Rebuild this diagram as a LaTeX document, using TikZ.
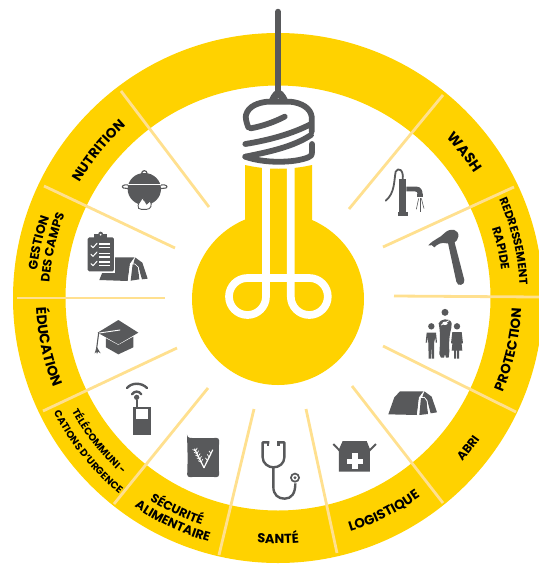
\documentclass[tikz,border=0pt]{standalone}
\usepackage{fontspec}
\setmainfont{Poppins}
\usetikzlibrary{decorations.text,calc}
\definecolor{ringy}{HTML}{FFD200}
\definecolor{rayy}{HTML}{FFE08F}
\definecolor{icong}{HTML}{58595B}
\newcommand{\arcCW}[4]{\path[decorate,decoration={text along path,text align=center,text={|\fontsize{#3}{#3}\selectfont\bfseries|#4}}] (c) ++(#2+45:#1 pt) arc[start angle=#2+45,end angle=#2-45,radius=#1 pt];}
\newcommand{\arcCCW}[4]{\path[decorate,decoration={text along path,text align=center,text={|\fontsize{#3}{#3}\selectfont\bfseries|#4}}] (c) ++(#2-45:#1 pt) arc[start angle=#2-45,end angle=#2+45,radius=#1 pt];}
\tikzset{
  x=1pt,y=-1pt,
  rayline/.style={draw=rayy,line width=2.8pt},
  ico/.style={fill=icong,draw=none},
  icoline/.style={draw=icong,line cap=round,line join=round},
  whiteline/.style={draw=white,line cap=round,line join=round},
  sock/.style={draw=icong,line width=5.8pt,line cap=round,line join=round},
  zA/.style={shift={(180,0)},scale=1/3},
  zC/.style={shift={(0,80)},scale=1/3},
  zD/.style={shift={(0,300)},scale=1/3},
  zE/.style={shift={(220,380)},scale=1/3},
  zF/.style={shift={(340,90)},scale=1/3},
  zG/.style={shift={(370,280)},scale=1/3},
}
\begin{document}
\begin{tikzpicture}
\useasboundingbox (0,0) rectangle (539,566);
\clip (0,0) rectangle (539,566);
\coordinate (c) at (278,298);
% ring
\fill[ringy,even odd rule] (c) circle[radius=265pt] (c) circle[radius=212.5pt];
% rays
\draw[rayline] (121,91) -- (209,207);
\draw[rayline] (44,186) -- (175,248);
\draw[rayline] (17,298) -- (165,298);
\draw[rayline] (43,411) -- (177,348);
\draw[rayline] (114,504) -- (208,388);
\draw[rayline] (219,555) -- (254,409);
\draw[rayline] (337,553) -- (306,409);
\draw[rayline] (443,503) -- (352,386);
\draw[rayline] (516,412) -- (383,346);
\draw[rayline] (539,297) -- (394,296);
\draw[rayline] (514,187) -- (383,247);
\draw[rayline] (443,95) -- (349,209);
% bulb
\fill[ringy] (278,299) circle[radius=86pt];
\fill[ringy] (245,165) .. controls (267,170) and (290,170) .. (312,165) -- (312,240) -- (245,240) -- cycle;
\draw[white,line width=7.7pt,line join=round] (266,160) -- (266,296.5) arc[start angle=0,end angle=-270,radius=18.5pt] -- (309.3,278) arc[start angle=90,end angle=-180,radius=18.5pt] -- (290.8,160);
% socket
\begin{scope}[zA]
\draw[sock] (294,35) -- (294,280);
\draw[sock] (205,382) .. controls (198,365) and (196,350) .. (198,345) .. controls (205,318) and (235,308) .. (262,305) -- (330,305) .. controls (365,308) and (392,325) .. (395,350) -- (395,395);
\fill[ico] (262,305) .. controls (272,298) and (272,272) .. (295,270) .. controls (318,272) and (318,298) .. (330,305) -- (318,310) -- (305,305) .. controls (300,292) and (290,292) .. (285,305) -- (272,310) -- cycle;
\draw[sock] (212,385) .. controls (250,378) and (285,365) .. (314,350);
\draw[sock] (196,432) .. controls (270,420) and (340,400) .. (393,372);
\draw[sock] (196,470) .. controls (270,455) and (340,440) .. (393,405);
\draw[sock] (196,470) .. controls (250,490) and (340,490) .. (385,472) .. controls (393,470) and (396,465) .. (396,455) -- (396,432);
\end{scope}
% labels
\arcCW{229.5}{140.7}{13.6}{NUTRITION}
\arcCW{242.5}{167}{12.6}{GESTION}
\arcCW{229}{167.4}{12.2}{DES CAMPS}
\arcCCW{242}{192}{14}{ÉDUCATION}
\arcCCW{235.5}{218.7}{10}{TÉLÉCOMMUNI -}
\arcCCW{252}{219}{10}{CATIONS D'URGENCE}
\arcCCW{239.5}{244.5}{12.3}{SÉCURITÉ}
\arcCCW{253.5}{244.8}{12.6}{ALIMENTAIRE}
\arcCCW{245.5}{270}{13}{SANTÉ}
\arcCCW{244.5}{296.4}{13.4}{LOGISTIQUE}
\arcCCW{246.5}{321.7}{12}{ABRI}
\arcCCW{243.5}{347.4}{13.5}{PROTECTION}
\arcCW{242}{13.6}{11.5}{REDRESSEMENT}
\arcCW{225}{12.6}{12}{RAPIDE}
\arcCW{232.5}{38}{14.5}{WASH}
% pot
\begin{scope}[zC]
\draw[icoline,line width=1.2pt] (433,280) circle[radius=8pt];
\draw[icoline,line width=1.1pt] (385,315) .. controls (370,312) and (362,320) .. (370,324) -- (388,326);
\draw[icoline,line width=1.1pt] (482,315) .. controls (498,312) and (506,320) .. (498,324) -- (480,326);
\fill[ico] (433,327) ellipse[x radius=50pt,y radius=48pt];
\fill[ico] (412,365) -- (455,365) -- (450,385) -- (418,385) -- cycle;
\draw[whiteline,line width=1.1pt] (385,314) -- (482,314);
\fill[white] (433,388) ellipse[x radius=22pt,y radius=8pt];
\draw[icong,fill=white,line width=.9pt] (416,385) .. controls (410,372) and (420,368) .. (428,352) .. controls (430,365) and (440,362) .. (440,372) .. controls (445,368) and (448,365) .. (450,362) .. controls (458,375) and (452,388) .. (440,388) -- (424,388) .. controls (420,388) and (418,388) .. (416,385) -- cycle;
% tent 1
\fill[ico] (298,600) -- (318,550) -- (342,532) -- (405,532) -- (390,552) -- (383,603) -- cycle;
\fill[ico] (405,532) -- (427,548) -- (443,596) -- (426,598) -- (415,560) -- (405,552) -- (400,552) -- cycle;
\fill[ico] (405,552) -- (414,562) -- (418,598) -- (392,602) -- (398,552) -- cycle;
\draw[whiteline,line width=.7pt] (405,532) -- (391,552) -- (385,603);
\draw[whiteline,line width=.7pt] (391,552) -- (405,552) -- (415,562) -- (421,598);
% clipboard
\fill[white] (258,464) rectangle (346,580);
\fill[ico,rounded corners=1.5pt] (263,472) rectangle (342,574);
\fill[ico] (283,462) rectangle (322,478);
\fill[ico] (302,462) circle[radius=7pt];
\fill[white] (302,464) circle[radius=3pt];
\foreach \yy in {497,523,551}{
  \draw[whiteline,line width=1pt] (273,\yy) -- (279,\yy+6) -- (291,\yy-7);
}
\foreach \yy in {492,503,520,531,546,557}{
  \fill[white] (298,\yy-2) rectangle (331,\yy+2);
}
\end{scope}
% education, phone, sack
\begin{scope}[zD]
\fill[ico] (318,115) -- (355,135) -- (400,110) -- (400,142) -- (355,163) -- (318,142) -- cycle;
\fill[ico] (293,98) -- (355,60) -- (415,98) -- (355,133) -- cycle;
\draw[whiteline,line width=.9pt] (360,90) -- (298,99);
\draw[icoline,line width=1.1pt] (296,99) -- (290,145);
\fill[ico] (290,140) -- (284,160) -- (289,155) -- (291,162) -- (294,155) -- (302,160) -- cycle;
% phone
\fill[ico] (400,320) rectangle (452,406);
\fill[white] (407,328) rectangle (445,358);
\draw[icoline,line width=2pt,line cap=butt] (410,300) -- (410,320);
\fill[ico] (410,292) circle[radius=8pt];
\draw[icoline,line width=2.4pt] (396,283) .. controls (403,272) and (417,272) .. (424,283);
\draw[icoline,line width=2.4pt] (381,264) .. controls (395,247) and (425,247) .. (441,264);
% sack
\fill[ico,rounded corners=3pt] (561,413) .. controls (590,415) and (630,415) .. (658,413) .. controls (656,450) and (656,500) .. (658,532) .. controls (630,530) and (590,530) .. (561,532) .. controls (563,500) and (563,450) .. (561,413) -- cycle;
\draw[whiteline,line width=1.2pt] (612,503) -- (584,447);
\draw[whiteline,line width=1.2pt] (612,503) -- (638,450);
\foreach \t in {0.3,0.45,0.6,0.75,0.9}{
  \draw[white,line width=.7pt] ($(612,503)!\t!(584,447)+(-9,-4)$) -- ($(612,503)!\t!(584,447)$) -- ($(612,503)!\t!(584,447)+(5,-9)$);
}
\foreach \t in {0.4,0.6,0.8}{
  \draw[white,line width=.7pt] ($(612,503)!\t!(638,450)+(-6,-8)$) -- ($(612,503)!\t!(638,450)$);
}
\end{scope}
% stethoscope, box
\begin{scope}[zE]
\draw[icong,line width=2.4pt,line join=round] (148,187) -- (128,187) -- (128,232) .. controls (128,250) and (145,262) .. (160,262) .. controls (178,262) and (193,250) .. (193,232) -- (193,187) -- (172,187);
\draw[icong,line width=2.4pt] (160,262) -- (160,320) .. controls (160,345) and (175,356) .. (194,356) .. controls (215,356) and (226,340) .. (226,310);
\fill[ico] (148,184) rectangle (140,198);
\fill[ico] (172,184) rectangle (180,198);
\fill[ico] (225,293) circle[radius=15pt];
\fill[white] (225,293) circle[radius=9pt];
\fill[ico] (225,293) circle[radius=5pt];
\fill[ico] (357,208) -- (368,183) -- (440,183) -- (450,208) -- (450,275) -- (357,275) -- cycle;
\draw[icong,line width=1.9pt] (340,192) -- (362,215);
\draw[icong,line width=1.9pt] (468,192) -- (445,215);
\fill[white] (397,220) rectangle (413,268);
\fill[white] (381,236) rectangle (429,252);
\end{scope}
% pump, hammer
\begin{scope}[zF]
\fill[ico] (178,268) rectangle (199,368);
\fill[ico] (174,365) rectangle (203,377);
\fill[ico] (199,290) -- (230,290) .. controls (242,290) and (248,300) .. (248,314) -- (233,314) .. controls (233,306) and (230,304) .. (224,304) -- (199,304) -- cycle;
\fill[ico] (231,313) rectangle (250,322);
\draw[icoline,line width=1.8pt] (188,268) .. controls (192,240) and (175,230) .. (167,245) .. controls (162,270) and (165,310) .. (137,332);
\draw[icong,line width=.6pt] (236,325) -- (229,358);
\draw[icong,line width=.6pt] (240,325) -- (240,365);
\draw[icong,line width=.6pt] (244,325) -- (252,356);
% hammer
\fill[ico] (322,450) -- (342,450) -- (373,570) .. controls (376,585) and (352,592) .. (349,575) -- cycle;
\fill[ico] (265,466) .. controls (280,448) and (300,445) .. (315,428) .. controls (332,412) and (358,418) .. (355,440) .. controls (352,458) and (335,464) .. (320,460) .. controls (305,456) and (292,462) .. (283,472) .. controls (280,465) and (272,464) .. (265,466) -- cycle;
\end{scope}
% family, tent 2
\begin{scope}[zG]
\fill[ico] (225,97) circle[radius=10.5pt];
\fill[ico] (184,139) circle[radius=9.6pt];
\fill[ico] (261,139) circle[radius=9.6pt];
% mother
\fill[ico] (206,130) .. controls (208,118) and (240,110) .. (245,130) .. controls (246,150) and (235,155) .. (238,215) -- (236,233) -- (228,233) -- (225,222) -- (222,233) -- (213,233) -- (208,222) .. controls (210,190) and (212,160) .. (206,130) -- cycle;
\draw[whiteline,line width=.8pt] (214,135) -- (226,128) -- (237,122);
\fill[white] (225,130) ellipse[x radius=8pt,y radius=5pt];
% left child
\fill[ico] (170,158) -- (198,158) -- (201,188) -- (197,188) -- (196,170) -- (192,190) -- (192,236) -- (186,236) -- (185,200) -- (183,236) -- (176,236) -- (175,190) -- (173,170) -- (171,188) -- (167,188) -- cycle;
% right child
\fill[ico] (247,156) -- (275,156) -- (279,190) -- (275,190) -- (273,172) -- (277,212) -- (267,212) -- (267,236) -- (261,236) -- (261,212) -- (258,212) -- (258,236) -- (252,236) -- (252,212) -- (245,212) -- (249,172) -- (247,190) -- (243,190) -- cycle;
% tent
\fill[ico] (55,403) -- (73,352) -- (90,334) -- (162,334) -- (147,353) -- (141,405) -- cycle;
\fill[ico] (163,334) -- (185,350) -- (201,397) -- (182,400) -- (172,362) -- (163,351) -- (157,351) -- cycle;
\fill[ico] (163,352) -- (170,362) -- (174,402) -- (148,405) -- (153,352) -- cycle;
\draw[whiteline,line width=.7pt] (162,334) -- (148,353) -- (142,405);
\draw[whiteline,line width=.7pt] (148,353) -- (163,352) -- (171,362) -- (176,402);
\end{scope}
\end{tikzpicture}
\end{document}
